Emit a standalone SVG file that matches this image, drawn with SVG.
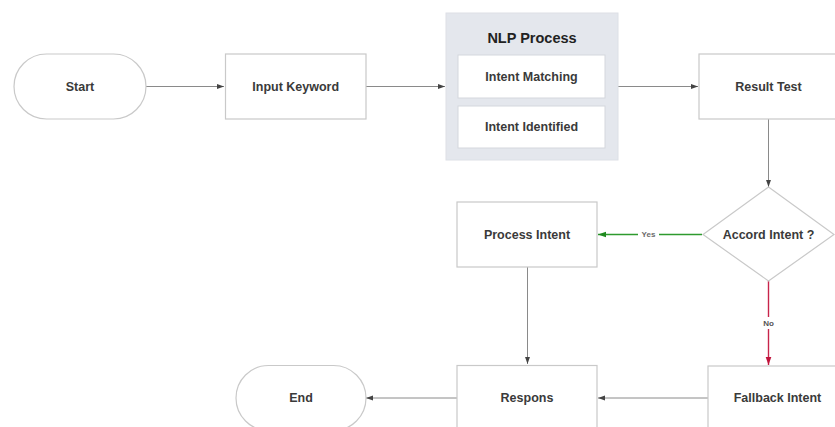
<svg xmlns="http://www.w3.org/2000/svg" width="835" height="427" viewBox="0 0 835 427">
<defs>
<style>
.box{fill:#ffffff;stroke:#c9c9c9;stroke-width:1.2}
.t{font-family:"Liberation Sans",Arial,sans-serif;font-size:12.5px;font-weight:bold;fill:#3a3a3a;text-anchor:middle;dominant-baseline:central}
.title{font-size:14.5px;fill:#222}
.lbl{font-family:"Liberation Sans",Arial,sans-serif;font-size:8px;font-weight:bold;text-anchor:middle;dominant-baseline:central}
.c{fill:none;stroke:#8a8a8a;stroke-width:1}
</style>
<marker id="ah" viewBox="0 0 10 10" refX="10" refY="5" markerWidth="7" markerHeight="7" orient="auto" markerUnits="userSpaceOnUse"><path d="M0,1.5 L10,5 L0,8.5 Z" fill="#444"/></marker>
<marker id="ahg" viewBox="0 0 10 10" refX="10" refY="5" markerWidth="8" markerHeight="8" orient="auto" markerUnits="userSpaceOnUse"><path d="M0,1.5 L10,5 L0,8.5 Z" fill="#1f8a1f"/></marker>
<marker id="ahr" viewBox="0 0 10 10" refX="10" refY="5" markerWidth="8" markerHeight="8" orient="auto" markerUnits="userSpaceOnUse"><path d="M0,1.5 L10,5 L0,8.5 Z" fill="#c0143c"/></marker>
</defs>
<rect width="835" height="427" fill="#ffffff"/>

<g id="connectors">
<line class="c" x1="146" y1="86.5" x2="224" y2="86.5" marker-end="url(#ah)"/>
<line class="c" x1="366" y1="86.5" x2="445" y2="86.5" marker-end="url(#ah)"/>
<line class="c" x1="618" y1="86.5" x2="698" y2="86.5" marker-end="url(#ah)"/>
<line class="c" x1="768.5" y1="119" x2="768.5" y2="187" marker-end="url(#ah)"/>
<line x1="702" y1="234.5" x2="598" y2="234.5" stroke="#2e9a2e" stroke-width="1.4" marker-end="url(#ahg)"/>
<rect x="638" y="229" width="21" height="11" fill="#ffffff"/>
<text class="lbl" x="648.5" y="234.5" fill="#6a6a6a">Yes</text>
<line x1="768.5" y1="281" x2="768.5" y2="365" stroke="#c8244a" stroke-width="1.4" marker-end="url(#ahr)"/>
<rect x="760" y="317" width="17" height="12" fill="#ffffff"/>
<text class="lbl" x="768.5" y="323" fill="#555">No</text>
<line class="c" x1="527.5" y1="267" x2="527.5" y2="364" marker-end="url(#ah)"/>
<line class="c" x1="708" y1="398" x2="598" y2="398" marker-end="url(#ah)"/>
<line class="c" x1="457" y1="398" x2="366" y2="398" marker-end="url(#ah)"/>
</g>

<g id="start">
<rect class="box" x="14" y="54" width="132" height="65" rx="32.5" ry="32.5"/>
<text class="t" x="80" y="86.5">Start</text>
</g>

<g id="input-keyword">
<rect class="box" x="225.5" y="54" width="140.5" height="65"/>
<text class="t" x="295.7" y="86.5">Input Keyword</text>
</g>

<g id="nlp-process">
<rect x="446" y="13" width="172" height="147" fill="#e4e7ed" stroke="#dde0e6" stroke-width="1"/>
<text class="t title" x="532" y="38">NLP Process</text>
<g id="intent-matching">
<rect x="458" y="55" width="147" height="43" fill="#ffffff" stroke="#d4d7dd" stroke-width="1"/>
<text class="t" x="531.5" y="76.5">Intent Matching</text>
</g>
<g id="intent-identified">
<rect x="458" y="106" width="147" height="42" fill="#ffffff" stroke="#d4d7dd" stroke-width="1"/>
<text class="t" x="531.5" y="127">Intent Identified</text>
</g>
</g>

<g id="result-test">
<rect class="box" x="699" y="54" width="140" height="65"/>
<text class="t" x="768.5" y="86.5">Result Test</text>
</g>

<g id="accord-intent">
<polygon class="box" points="768.5,187 834,234.5 768.5,281 703,234.5"/>
<text class="t" x="768.5" y="234.5">Accord Intent ?</text>
</g>

<g id="process-intent">
<rect class="box" x="457" y="202" width="140" height="65"/>
<text class="t" x="527" y="234.5">Process Intent</text>
</g>

<g id="fallback-intent">
<rect class="box" x="708" y="366" width="140" height="65"/>
<text class="t" x="777.5" y="398">Fallback Intent</text>
</g>

<g id="respons">
<rect class="box" x="457" y="365.5" width="140" height="65"/>
<text class="t" x="527" y="398">Respons</text>
</g>

<g id="end">
<rect class="box" x="236" y="365.5" width="130" height="65" rx="32.5" ry="32.5"/>
<text class="t" x="301" y="398">End</text>
</g>
</svg>
